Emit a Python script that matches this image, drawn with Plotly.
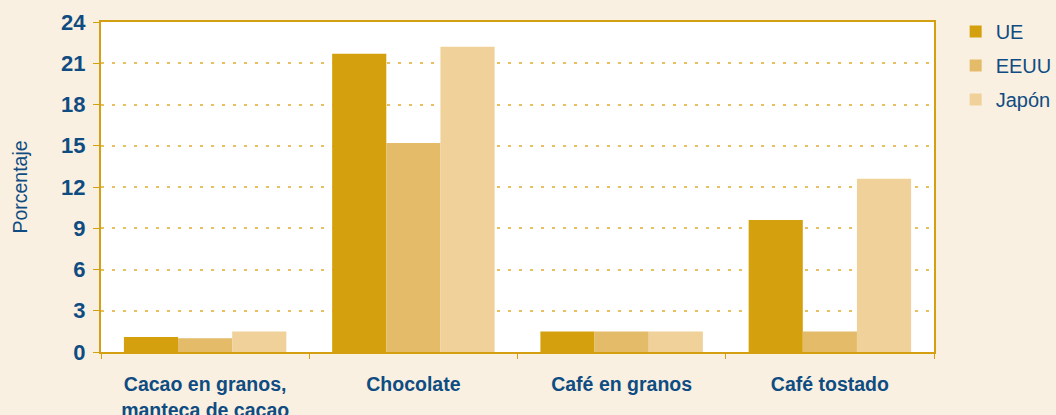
from plotly import graph_objects as go

categories = ["Cacao en granos,<br>manteca de cacao", "Chocolate", "Café en granos", "Café tostado"]
ue = [1.1, 21.7, 1.5, 9.6]
eeuu = [1.0, 15.2, 1.5, 1.5]
japon = [1.5, 22.2, 1.5, 12.6]
y_ticks = [0, 3, 6, 9, 12, 15, 18, 21, 24]

text_blue = "#0F4C81"
gold = "#D4A012"
bold_font = "Liberation Sans Narrow, Arial Narrow, Liberation Sans, sans-serif"


def main():
    fig = go.Figure()
    for name, values, color in [
        ("UE", ue, "#D4A00E"),
        ("EEUU", eeuu, "#E3BB69"),
        ("Japón", japon, "#EFD199"),
    ]:
        fig.add_trace(
            go.Bar(
                x=categories, y=values, name=name, legendgroup=name,
                marker_color=color, marker_line_width=0,
            )
        )

    fig.update_layout(
        width=1056,
        height=415,
        margin=dict(l=101, r=122, t=22, b=63, autoexpand=False),
        paper_bgcolor="#FAF0E1",
        plot_bgcolor="white",
        barmode="group",
        bargap=0.22,
        bargroupgap=0,
        legend=dict(
            x=1.026, y=1.03, xanchor="left", yanchor="top",
            font=dict(family="Liberation Sans, Arial", size=20, color=text_blue),
            itemwidth=30, tracegroupgap=5, bgcolor="rgba(0,0,0,0)",
        ),
        showlegend=True,
    )
    fig.update_xaxes(
        automargin=False,
        tickson="boundaries", ticks="outside", ticklen=5, tickcolor=gold,
        showline=True, linecolor=gold, linewidth=2, mirror=True,
        tickfont=dict(family=bold_font, size=19.5, color=text_blue, weight="bold"),
        ticklabelstandoff=14,
        showgrid=False,
    )
    fig.update_yaxes(
        automargin=False,
        range=[0, 24], tickvals=y_ticks, ticks="outside", ticklen=6, tickcolor=gold,
        showline=True, linecolor=gold, linewidth=2, mirror=True,
        tickfont=dict(family=bold_font, size=22, color=text_blue, weight="bold"),
        ticklabelstandoff=3,
        showgrid=True, gridcolor="#E8C060", griddash="3px,8px", gridwidth=2,
        zeroline=False,
        title=dict(text="Porcentaje", font=dict(family="Liberation Sans, Arial", size=19.5, color=text_blue), standoff=28),
    )

    fig.write_html(
        "out.html",
        config={"displayModeBar": False},
        post_script="document.body.style.margin='0px';",
    )


if __name__ == "__main__":
    main()
